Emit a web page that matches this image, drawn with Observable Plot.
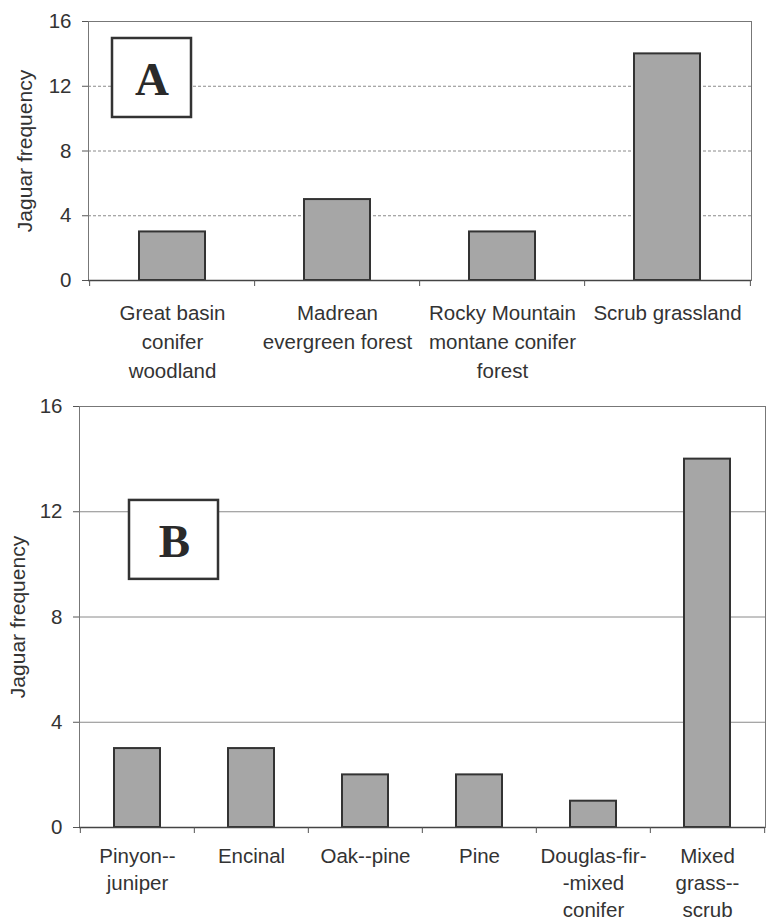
<!DOCTYPE html>
<html><head><meta charset="utf-8">
<script src="https://cdn.jsdelivr.net/npm/d3@7"></script>
<script src="https://cdn.jsdelivr.net/npm/@observablehq/plot@0.6"></script>
<style>
body{margin:0;background:#fff;}
#chart svg{display:block;}
</style></head><body><div id="chart"></div>
<script>
// ---- data ----
const categoriesA = ["Great basin\nconifer\nwoodland", "Madrean\nevergreen forest", "Rocky Mountain\nmontane conifer\nforest", "Scrub grassland"];
const valuesA = [3, 5, 3, 14];
const categoriesB = ["Pinyon--\njuniper", "Encinal", "Oak--pine", "Pine", "Douglas-fir-\n-mixed\nconifer", "Mixed\ngrass--\nscrub"];
const valuesB = [3, 3, 2, 2, 1, 14];
const yTicks = [0, 4, 8, 12, 16];
const yTitle = "Jaguar frequency";
const panelLetters = ["A", "B"];

function panel(cfg) {
  const {cats, vals, letter, height, mt, mb, ml, mr, gridDash, labelDy, lineHeight, titleDx,
         box, letterY, letterDx, boxInsetL, boxInsetR} = cfg;
  const width = 766;
  const data = cats.map((c, i) => ({cat: c, value: vals[i]}));
  const step = (width - ml - mr) / cats.length;
  const ann = [{cat: cats[0], top: box[0], bottom: box[1], letter, ly: letterY}];
  return Plot.plot({
    width, height, marginTop: mt, marginBottom: mb, marginLeft: ml, marginRight: mr,
    style: {fontFamily: "'Liberation Sans', Arial, sans-serif", color: "#333", background: "#fff", overflow: "visible"},
    x: {domain: cats, paddingInner: 0.6, paddingOuter: 0.3, axis: null},
    y: {domain: [0, 16], axis: null},
    marks: [
      Plot.gridY(yTicks, {stroke: "#8a8a8a", strokeOpacity: 1, strokeDasharray: gridDash}),
      Plot.frame({stroke: "#777"}),
      Plot.barY(ann, {x: "cat", y1: "bottom", y2: "top", insetLeft: boxInsetL, insetRight: boxInsetR,
                      fill: "#fff", stroke: "#333", strokeWidth: 2.5}),
      Plot.text(ann, {x: "cat", y: "ly", text: "letter", dx: letterDx, fontFamily: "'Liberation Serif', 'Times New Roman', serif",
                      fontWeight: "bold", fontSize: 47, fill: "#2a2a2a"}),
      Plot.barY(data, {x: "cat", y: "value", fill: "#a6a6a6", stroke: "#333", strokeWidth: 2}),
      Plot.ruleY([0], {stroke: "#444", strokeWidth: 1.5}),
      Plot.ruleX(data, {x: "cat", y1: 0, y2: 0, insetBottom: -6, dx: -step / 2, stroke: "#555"}),
      Plot.ruleX(data.slice(-1), {x: "cat", y1: 0, y2: 0, insetBottom: -6, dx: step / 2, stroke: "#555"}),
      Plot.axisY(yTicks, {anchor: "left", tickSize: 6, tickPadding: 11, fontSize: 20.5, stroke: "#555", label: null}),
      Plot.text(data, {x: "cat", text: "cat", frameAnchor: "bottom", lineAnchor: "top", dy: labelDy,
                       fontSize: 20.5, lineHeight, fill: "#333"}),
      Plot.text([yTitle], {text: d => d, frameAnchor: "left", textAnchor: "middle", rotate: -90, dx: titleDx, fontSize: 21, fill: "#333"})
    ]
  });
}

const chart = document.getElementById("chart");
chart.append(panel({
  cats: categoriesA, vals: valuesA, letter: panelLetters[0],
  height: 385, mt: 21, mb: 105, ml: 88, mr: 15,
  gridDash: "3,2", labelDy: 19, lineHeight: 1.41, titleDx: -63,
  box: [14.95, 10.07], letterY: 12.4, letterDx: -20.5, boxInsetL: -27, boxInsetR: 14
}));
chart.append(panel({
  cats: categoriesB, vals: valuesB, letter: panelLetters[1],
  height: 537, mt: 21, mb: 95, ml: 79, mr: 1,
  gridDash: null, labelDy: 16.5, lineHeight: 1.32, titleDx: -61,
  box: [12.43, 9.43], letterY: 10.87, letterDx: 37, boxInsetL: 15, boxInsetR: -58
}));
</script></body></html>
